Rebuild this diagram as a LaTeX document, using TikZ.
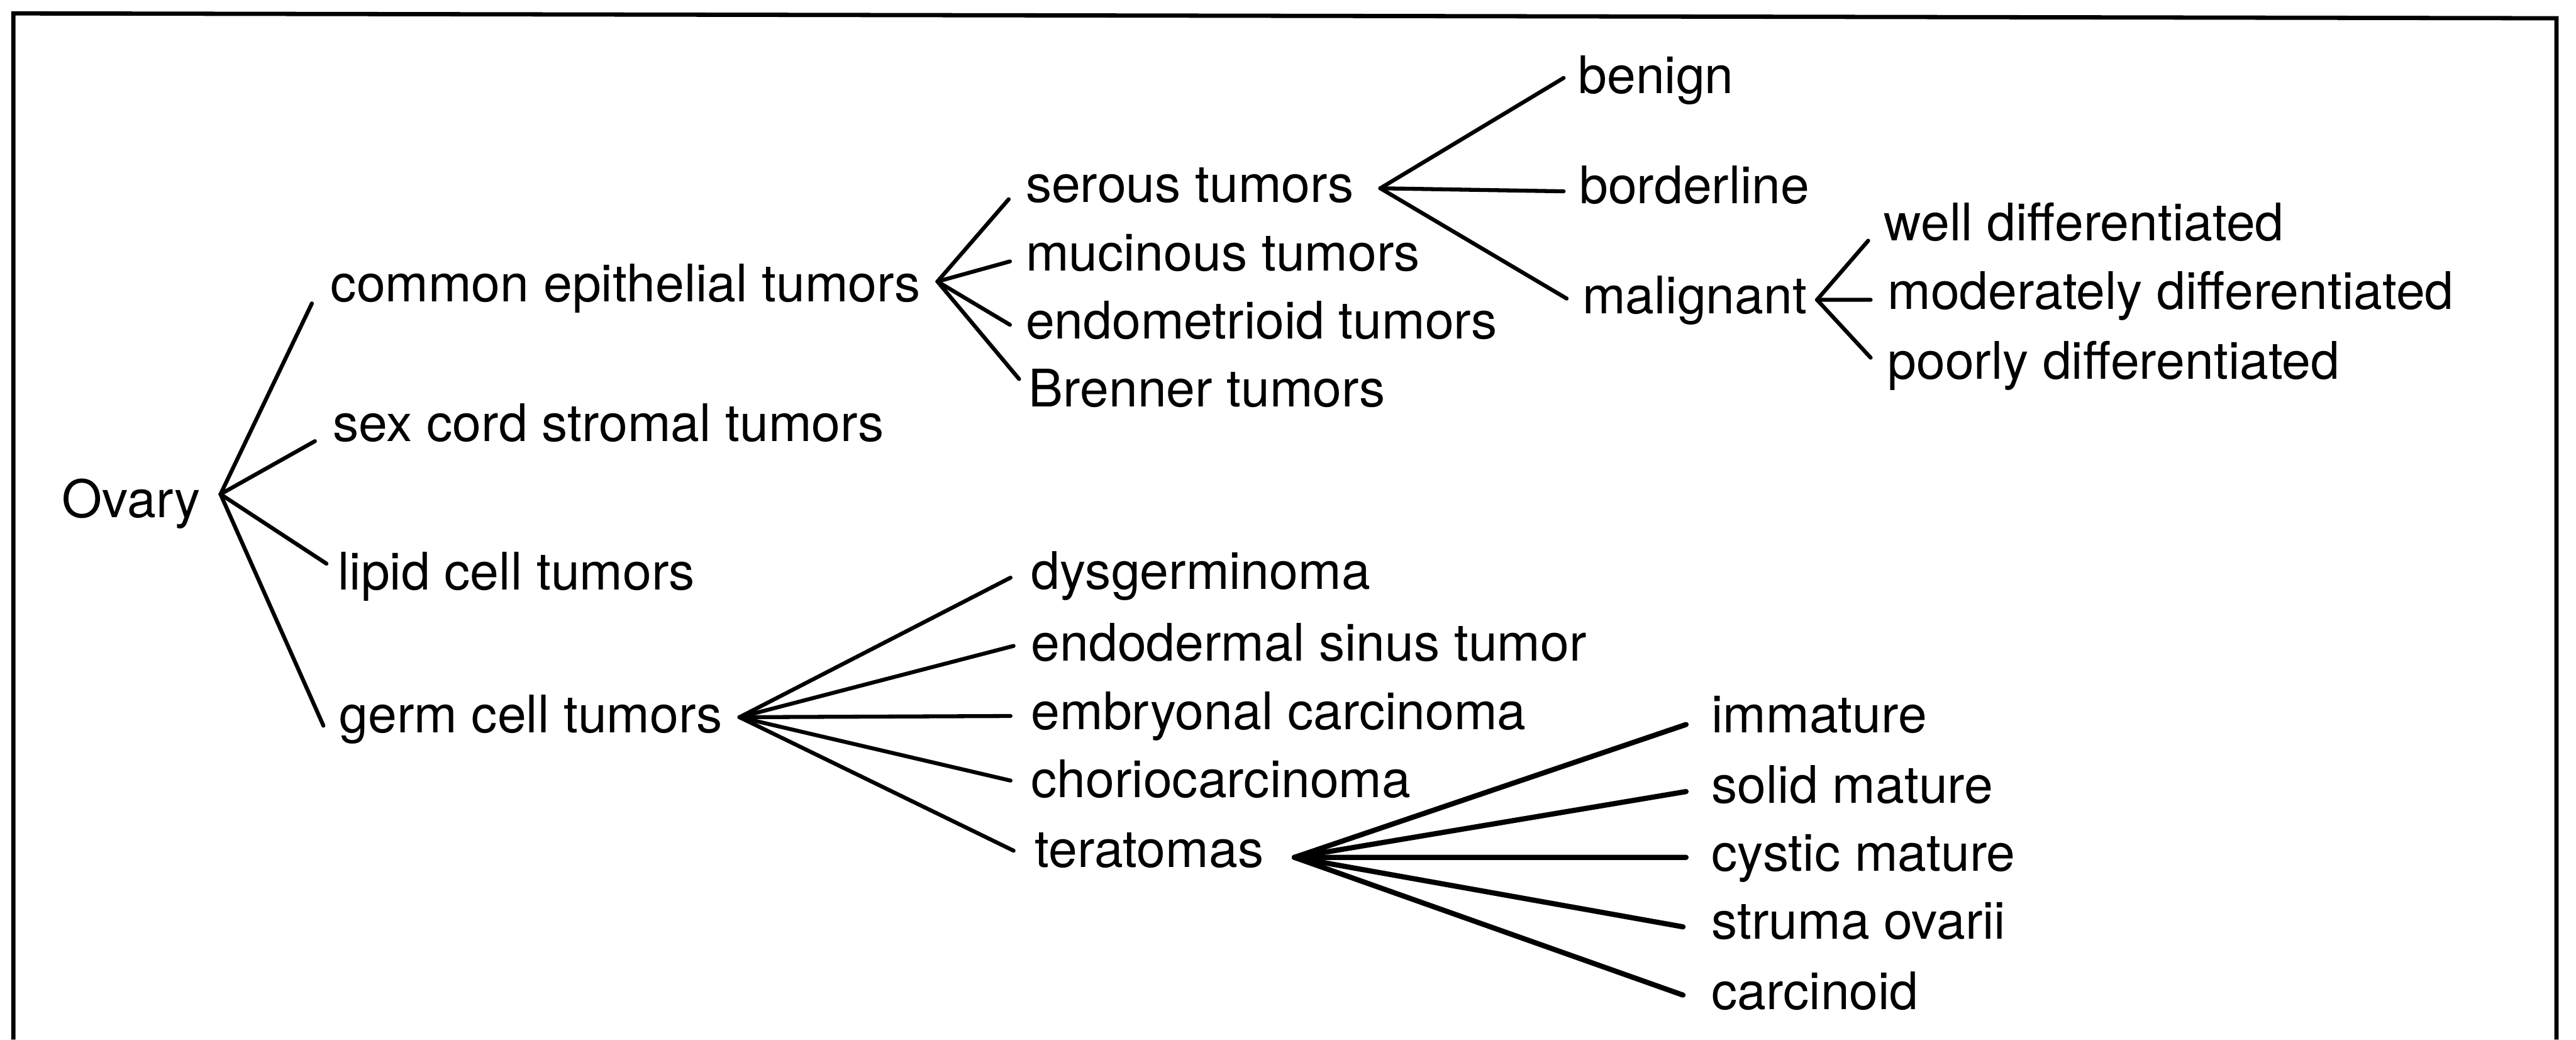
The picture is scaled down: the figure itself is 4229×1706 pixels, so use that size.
\documentclass[tikz,border=0pt]{standalone}
\usepackage{fontspec}
\setmainfont{TeX Gyre Heros}
\begin{document}
\begin{tikzpicture}[x=0.1pt,y=-0.1pt,
  lbl/.style={anchor=base west,inner sep=0pt,font=\fontsize{8.5pt}{10pt}\selectfont},
  br/.style={line width=0.65pt,line cap=round},
  frame/.style={line width=0.7pt}]
\useasboundingbox (0,0) rectangle (4229,1706);
% frame (open at bottom)
\draw[frame] (22,1706) -- (22,22) -- (4197,30) -- (4197,1706);

% nodes
\node[lbl] (ovary) at (100,849) {Ovary};
\node[lbl] (common) at (541,495) {common epithelial tumors};
\node[lbl] (sexcord) at (545,724) {sex cord stromal tumors};
\node[lbl] (lipid) at (553,968) {lipid cell tumors};
\node[lbl] (germ) at (555,1202) {germ cell tumors};

\node[lbl] (serous) at (1682,332) {serous tumors};
\node[lbl] (mucinous) at (1682,444) {mucinous tumors};
\node[lbl] (endomet) at (1682,556) {endometrioid tumors};
\node[lbl] (brenner) at (1687,668) {Brenner tumors};

\node[lbl] (benign) at (2589,153) {benign};
\node[lbl] (border) at (2591,334) {borderline};
\node[lbl] (malig) at (2596,515) {malignant};

\node[lbl] (well) at (3091,395) {well differentiated};
\node[lbl] (moder) at (3097,508) {moderately differentiated};
\node[lbl] (poorly) at (3097,622) {poorly differentiated};

\node[lbl] (dysger) at (1691,967) {dysgerminoma};
\node[lbl] (endoder) at (1691,1085) {endodermal sinus tumor};
\node[lbl] (embryo) at (1691,1197) {embryonal carcinoma};
\node[lbl] (chorio) at (1691,1309) {choriocarcinoma};
\node[lbl] (terat) at (1697,1423) {teratomas};

\node[lbl] (immat) at (2808,1202) {immature};
\node[lbl] (solid) at (2808,1318) {solid mature};
\node[lbl] (cystic) at (2808,1430) {cystic mature};
\node[lbl] (struma) at (2808,1541) {struma ovarii};
\node[lbl] (carcin) at (2808,1657) {carcinoid};

% junction points
\coordinate (jO) at (362,811);
\coordinate (jC) at (1539,462);
\coordinate (jS) at (2266,309);
\coordinate (jM) at (2983,492);
\coordinate (jG) at (1214,1177);
\coordinate (jT) at (2125,1407);

% connectors
\draw[br] (jO) -- ([xshift=-2.9pt,yshift=-0.3pt]common.base west);
\draw[br] (jO) -- ([xshift=-2.8pt]sexcord.base west);
\draw[br] (jO) -- ([xshift=-1.7pt,yshift=4.3pt]lipid.base west);
\draw[br] (jO) -- ([xshift=-2.4pt,yshift=1.1pt]germ.base west);

\draw[br] (jC) -- ([xshift=-2.6pt,yshift=0.5pt]serous.base west);
\draw[br] (jC) -- ([xshift=-2.4pt,yshift=1.5pt]mucinous.base west);
\draw[br] (jC) -- ([xshift=-2.4pt,yshift=2.3pt]endomet.base west);
\draw[br] (jC) -- ([xshift=-1.4pt,yshift=4.6pt]brenner.base west);

\draw[br] (jS) -- ([xshift=-2.2pt,yshift=2.5pt]benign.base west);
\draw[br] (jS) -- ([xshift=-2.4pt,yshift=2.0pt]border.base west);
\draw[br] (jS) -- ([xshift=-2.4pt,yshift=2.5pt]malig.base west);

\draw[br] (jM) -- ([xshift=-2.4pt,yshift=0.0pt]well.base west);
\draw[br] (jM) -- ([xshift=-2.6pt,yshift=1.6pt]moder.base west);
\draw[br] (jM) -- ([xshift=-2.6pt,yshift=3.5pt]poorly.base west);

\draw[br] (jG) -- ([xshift=-3.2pt,yshift=1.9pt]dysger.base west);
\draw[br] (jG) -- ([xshift=-2.7pt,yshift=2.5pt]endoder.base west);
\draw[br] (jG) -- ([xshift=-3.2pt,yshift=2.2pt]embryo.base west);
\draw[br] (jG) -- ([xshift=-3.2pt,yshift=2.8pt]chorio.base west);
\draw[br] (jG) -- ([xshift=-3.3pt,yshift=2.7pt]terat.base west);

\draw[br,line width=0.85pt] (jT) -- ([xshift=-4.0pt,yshift=1.3pt]immat.base west);
\draw[br,line width=0.85pt] (jT) -- ([xshift=-4.0pt,yshift=1.9pt]solid.base west);
\draw[br,line width=0.85pt] (jT) -- ([xshift=-4.0pt,yshift=2.3pt]cystic.base west);
\draw[br,line width=0.85pt] (jT) -- ([xshift=-4.5pt,yshift=2.0pt]struma.base west);
\draw[br,line width=0.85pt] (jT) -- ([xshift=-4.5pt,yshift=2.4pt]carcin.base west);
\end{tikzpicture}
\end{document}
